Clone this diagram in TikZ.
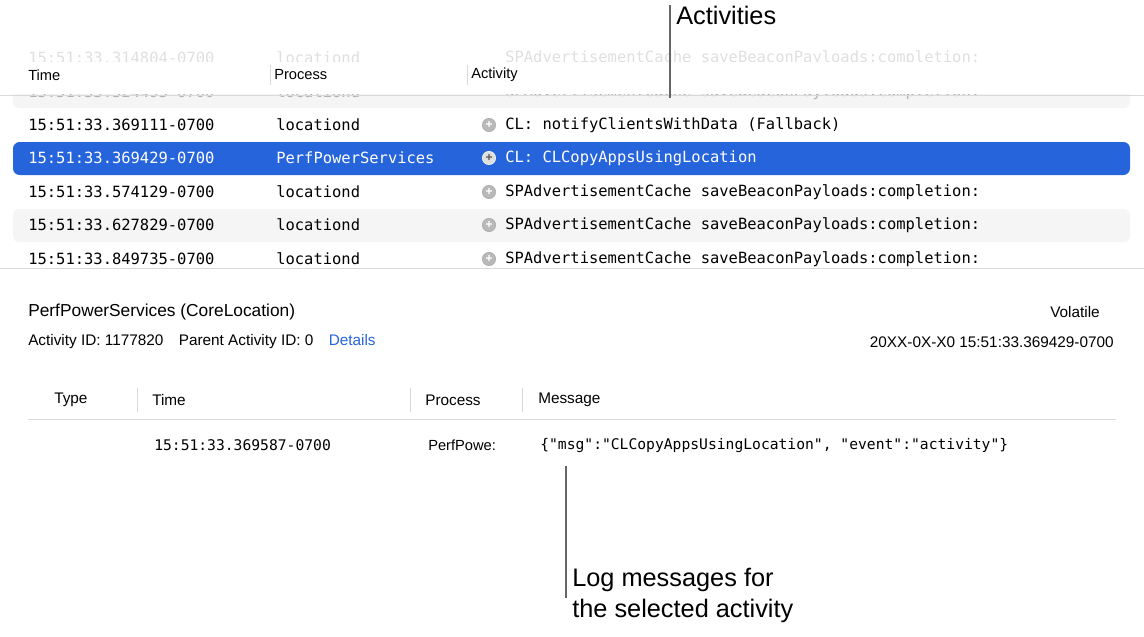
\documentclass[tikz,border=0pt]{standalone}
\usepackage{fontspec}
\setmainfont{Liberation Sans}
\newfontfamily\monof{DejaVu Sans Mono}
\begin{document}
\begin{tikzpicture}[x=0.75pt,y=-0.75pt,
  mono/.style={anchor=west,font=\monof\fontsize{11.6}{13}\selectfont,inner sep=0pt},
  sans/.style={anchor=west,font=\fontsize{11.5}{13}\selectfont,inner sep=0pt},
  big/.style={anchor=west,font=\fontsize{19}{23}\selectfont,inner sep=0pt},
  plus/.style={circle,fill=gray!55,draw=gray!70,minimum size=10pt,inner sep=0pt,font=\bfseries\fontsize{9}{9}\selectfont,text=white},
  stripe/.style={fill=gray!8,draw=none,rounded corners=4pt},
  callout/.style={draw=gray!80!black,line width=1.2pt}]
\useasboundingbox (0,0) rectangle (1144,636);
% faded rows
\node[mono,text=gray!25] (f1) at (28,58) {15:51:33.314804-0700};
\node[mono,text=gray!25] (f2) at (276,58) {locationd};
\node[mono,text=gray!25] (f3) at (505,58) {SPAdvertisementCache saveBeaconPayloads:completion:};
\fill[stripe] (13,80) rectangle (1130,108);
\node[mono,text=gray!60] (g1) at (28,92) {15:51:33.324493-0700};
\node[mono,text=gray!60] (g2) at (276,92) {locationd};
\node[mono,text=gray!60] (g3) at (505,92) {SPAdvertisementCache saveBeaconPayloads:completion:};
% header
\fill[white] (0,62) rectangle (1144,94);
\draw[gray!30] (0,95) -- (1144,95);
\draw[gray!30] (270,65) -- (270,85) (467,65) -- (467,85);
\node[sans,font=\fontsize{11}{13}\selectfont] (h1) at (28,75) {Time};
\node[sans,font=\fontsize{11}{13}\selectfont] (h2) at (274,75) {Process};
\node[sans,font=\fontsize{11}{13}\selectfont] (h3) at (471,75) {Activity};
% rows
\node[mono] (r1a) at (28,125) {15:51:33.369111-0700};
\node[mono] (r1b) at (276,125) {locationd};
\node[plus] (p1) at (489,125) {+};
\node[mono] (r1c) at (505,125) {CL: notifyClientsWithData (Fallback)};
\fill[blue!70!cyan!70!black,rounded corners=5pt,fill={rgb,255:red,38;green,100;blue,220}] (13,142) rectangle (1130,175);
\node[mono,text=white] (r2a) at (28,158) {15:51:33.369429-0700};
\node[mono,text=white] (r2b) at (276,158) {PerfPowerServices};
\node[plus,fill=gray!25,draw=white,text=gray!70!black] (p2) at (489,158) {+};
\node[mono,text=white] (r2c) at (505,158) {CL: CLCopyAppsUsingLocation};
\node[mono] (r3a) at (28,192) {15:51:33.574129-0700};
\node[mono] (r3b) at (276,192) {locationd};
\node[plus] (p3) at (489,192) {+};
\node[mono] (r3c) at (505,192) {SPAdvertisementCache saveBeaconPayloads:completion:};
\fill[stripe] (13,209) rectangle (1130,242);
\node[mono] (r4a) at (28,225) {15:51:33.627829-0700};
\node[mono] (r4b) at (276,225) {locationd};
\node[plus] (p4) at (489,225) {+};
\node[mono] (r4c) at (505,225) {SPAdvertisementCache saveBeaconPayloads:completion:};
\node[mono] (r5a) at (28,259) {15:51:33.849735-0700};
\node[mono] (r5b) at (276,259) {locationd};
\node[plus] (p5) at (489,259) {+};
\node[mono] (r5c) at (505,259) {SPAdvertisementCache saveBeaconPayloads:completion:};
\draw[gray!30] (0,268) -- (1144,268);
% details
\node[sans,font=\fontsize{13}{15}\selectfont] (t) at (28,312) {PerfPowerServices (CoreLocation)};
\node[sans,anchor=east] (v) at (1100,312) {Volatile};
\node[sans] (aid) at (28,342) {Activity ID: 1177820\quad Parent Activity ID: 0\quad \textcolor[RGB]{38,100,220}{Details}};
\node[sans,anchor=east] (dt) at (1114,342) {20XX-0X-X0 15:51:33.369429-0700};
\node[sans] (k1) at (54,400) {Type};
\node[sans] (k2) at (152,400) {Time};
\node[sans] (k3) at (425,400) {Process};
\node[sans] (k4) at (538,400) {Message};
\draw[gray!30] (137,388) -- (137,412) (410,388) -- (410,412) (522,388) -- (522,412);
\draw[gray!30] (28,419) -- (1116,419);
\node[mono,font=\monof\fontsize{11}{13}\selectfont] (m1) at (154,445) {15:51:33.369587-0700};
\node[sans,font=\fontsize{11}{13}\selectfont] (m2) at (428,445) {PerfPowe:};
\node[mono,font=\monof\fontsize{11}{13}\selectfont] (m3) at (540,445) {\{"msg":"CLCopyAppsUsingLocation", "event":"activity"\}};
% callouts
\node[big] (act) at (676,15) {Activities};
\coordinate (ca) at (670,98);
\draw[callout] (670,5) -- (ca);
\node[big,align=left,anchor=north west] (lm) at (572,568) {Log messages for\\the selected activity};
\coordinate (cm) at (566,466);
\draw[callout] (cm) -- (566,598);
\end{tikzpicture}
\end{document}
